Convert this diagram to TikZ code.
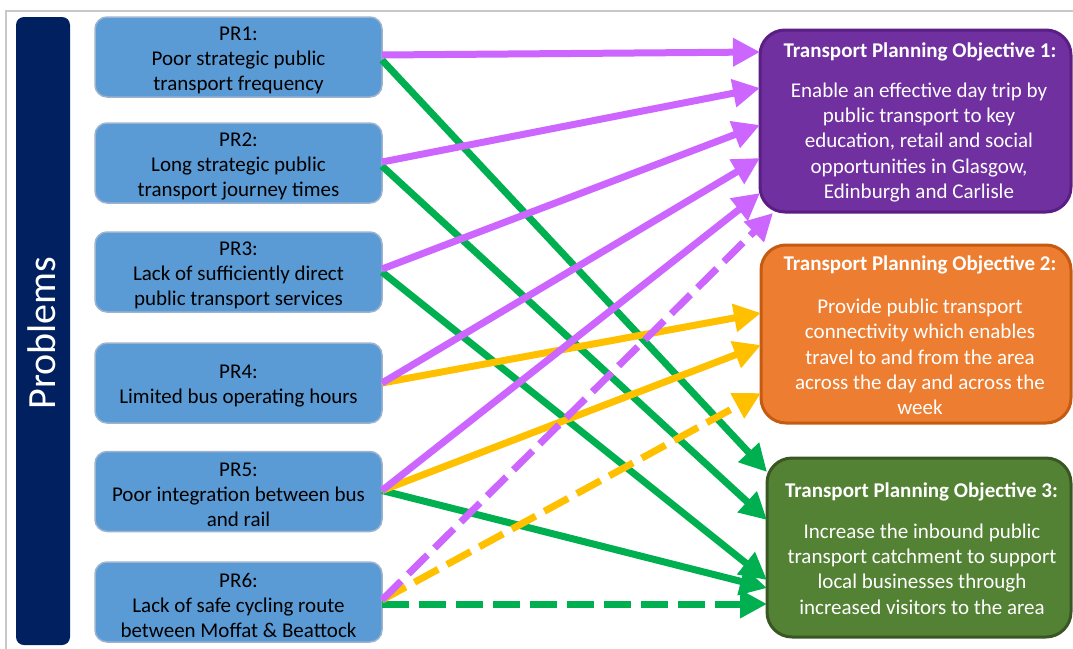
\documentclass[tikz,border=0pt]{standalone}
\usepackage{fontspec}
\setmainfont{Carlito}
\usetikzlibrary{arrows.meta,calc}
\definecolor{navy}{HTML}{002060}
\definecolor{prfill}{HTML}{5B9BD5}
\definecolor{prline}{HTML}{9DB3CF}
\definecolor{arrpurple}{HTML}{CC66FF}
\definecolor{arrgreen}{HTML}{00B050}
\definecolor{arryellow}{HTML}{FFC000}
\definecolor{oafill}{HTML}{7030A0}
\definecolor{oaline}{HTML}{5A1E84}
\definecolor{obfill}{HTML}{ED7D31}
\definecolor{obline}{HTML}{C55A11}
\definecolor{ocfill}{HTML}{548235}
\definecolor{ocline}{HTML}{385723}
\definecolor{framegray}{HTML}{C8C8C8}
\begin{document}
\begin{tikzpicture}[x=1pt,y=-1pt,
  prbox/.style={draw=prline, line width=1.5pt, fill=prfill, rounded corners=12pt,
    minimum width=287pt, minimum height=80pt, outer sep=0pt},
  prtext/.style={align=center, font=\fontsize{21}{25}\selectfont, text=black},
  objbox/.style={line width=3pt, rounded corners=25pt, outer sep=0pt},
  objtitle/.style={font=\fontsize{21}{25}\selectfont\bfseries, text=white},
  objbody/.style={font=\fontsize{21}{25.3}\selectfont, text=white, align=center},
  conn/.style={line width=7pt, -{Triangle[length=27pt,width=27pt]}},
  dashconn/.style={conn, dash pattern=on 27pt off 10pt},
]
\useasboundingbox (0,0) rectangle (1073,648);
% frame
\draw[framegray, line width=1.5pt] (6,660) -- (6,11) -- (1080,11);

% problems bar
\node[fill=navy, rounded corners=8pt, minimum width=54pt, minimum height=628pt, outer sep=0pt] (bar) at (43,331) {};
\node[rotate=90, text=white, font=\fontsize{40}{44}\selectfont] (barlabel) at (42,333) {Problems};

% problem boxes
\node[prbox] (pr1) at (238.5,57) {};
\node[prtext] (pr1t) at (238.5,60) {PR1:\\Poor strategic public\\transport frequency};
\node[prbox] (pr2) at (238.5,163) {};
\node[prtext] (pr2t) at (238.5,166) {PR2:\\Long strategic public\\transport journey times};
\node[prbox] (pr3) at (238.5,272) {};
\node[prtext] (pr3t) at (238.5,275) {PR3:\\Lack of sufficiently direct\\public transport services};
\node[prbox] (pr4) at (238.5,383) {};
\node[prtext] (pr4t) at (238.5,386) {PR4:\\Limited bus operating hours};
\node[prbox] (pr5) at (238.5,491.5) {};
\node[prtext] (pr5t) at (238.5,494.5) {PR5:\\Poor integration between bus\\and rail};
\node[prbox] (pr6) at (238.5,602) {};
\node[prtext] (pr6t) at (238.5,605) {PR6:\\Lack of safe cycling route\\between Moffat \& Beattock};

% objective boxes
\node[objbox, draw=oaline, fill=oafill, minimum width=311pt, minimum height=182pt] (tpo1) at (915.5,121) {};
\node[objtitle] (tpo1t) at (920,52) {Transport Planning Objective 1:};
\node[objbody] (tpo1b) at (919,142.5) {Enable an effective day trip by\\public transport to key\\education, retail and social\\opportunities in Glasgow,\\Edinburgh and Carlisle};

\node[objbox, draw=obline, fill=obfill, minimum width=310pt, minimum height=178pt] (tpo2) at (916,334) {};
\node[objtitle] (tpo2t) at (920,265) {Transport Planning Objective 2:};
\node[objbody] (tpo2b) at (920,357) {Provide public transport\\connectivity which enables\\travel to and from the area\\across the day and across the\\week};

\node[objbox, draw=ocline, fill=ocfill, minimum width=304pt, minimum height=179pt] (tpo3) at (919,547.5) {};
\node[objtitle] (tpo3t) at (921.5,492) {Transport Planning Objective 3:};
\node[objbody] (tpo3b) at (922,569) {Increase the inbound public\\transport catchment to support\\local businesses through\\increased visitors to the area};

% green connectors
\draw[conn, arrgreen] ($(pr1.east)+(0,3)$) -- ($(tpo3.north west)+(0,14)$);
\draw[conn, arrgreen] ($(pr2.east)+(0,3)$) -- ($(tpo3.north west)+(0,62)$);
\draw[conn, arrgreen] ($(pr3.east)+(0,0)$) -- ($(tpo3.north west)+(0,122)$);
\draw[conn, arrgreen] ($(pr5.east)+(0,-1)$) -- ($(tpo3.north west)+(0,130)$);
\draw[dashconn, arrgreen] ($(pr6.east)+(0,2)$) -- ($(tpo3.north west)+(0,146)$);

% yellow connectors
\draw[conn, arryellow] (pr4.east) -- ($(tpo2.north west)+(0,68)$);
\draw[conn, arryellow] ($(pr5.east)+(0,-1)$) -- ($(tpo2.north west)+(0,100)$);
\draw[dashconn, arryellow] ($(pr6.east)+(0,-2)$) -- ($(tpo2.north west)+(0,148)$);

% purple connectors
\draw[conn, arrpurple] ($(pr1.east)+(0,-2)$) -- ($(tpo1.north west)+(0,22)$);
\draw[conn, arrpurple] ($(pr2.east)+(0,-1)$) -- ($(tpo1.north west)+(0,58)$);
\draw[conn, arrpurple] ($(pr3.east)+(0,-3)$) -- ($(tpo1.north west)+(0,95)$);
\draw[conn, arrpurple] (pr4.east) -- ($(tpo1.north west)+(0,128)$);
\draw[conn, arrpurple] ($(pr5.east)+(0,-1)$) -- ($(tpo1.north west)+(0,163)$);
\draw[dashconn, arrpurple] ($(pr6.east)+(0,-2)$) -- ($(tpo1.south west)+(13,1)$);
\end{tikzpicture}
\end{document}
